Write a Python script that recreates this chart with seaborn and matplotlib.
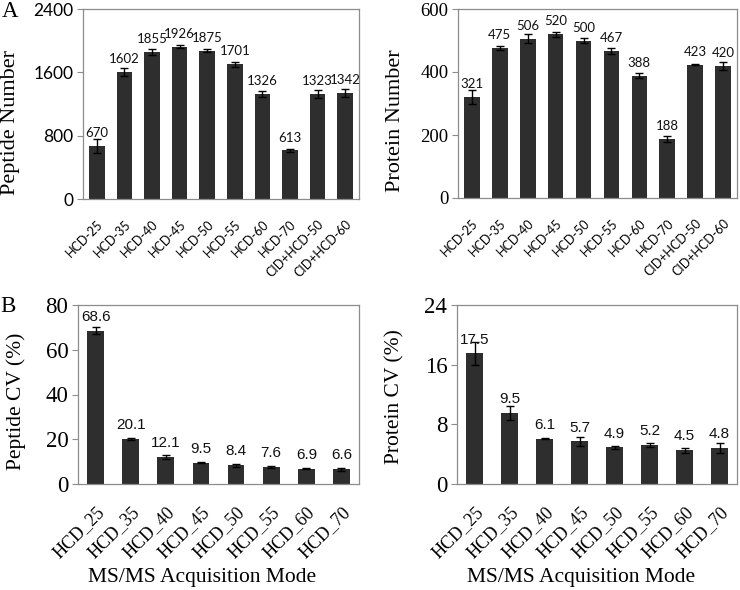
import matplotlib
matplotlib.use("Agg")
import matplotlib.pyplot as plt
import seaborn as sns
import pandas as pd

# ---------------- data ----------------
modes_top = ["HCD-25", "HCD-35", "HCD-40", "HCD-45", "HCD-50", "HCD-55",
             "HCD-60", "HCD-70", "CID+HCD-50", "CID+HCD-60"]
peptide_num = [670, 1602, 1855, 1926, 1875, 1701, 1326, 613, 1323, 1342]
peptide_num_err = [85, 50, 40, 20, 15, 35, 35, 20, 50, 50]
protein_num = [321, 475, 506, 520, 500, 467, 388, 188, 423, 420]
protein_num_err = [22, 6, 14, 8, 8, 10, 8, 9, 2, 13]

modes_bot = ["HCD_25", "HCD_35", "HCD_40", "HCD_45", "HCD_50", "HCD_55",
             "HCD_60", "HCD_70"]
peptide_cv = [68.6, 20.1, 12.1, 9.5, 8.4, 7.6, 6.9, 6.6]
peptide_cv_err = [1.5, 0.6, 1.0, 0.3, 0.6, 0.3, 0.3, 0.6]
protein_cv = [17.5, 9.5, 6.1, 5.7, 4.9, 5.2, 4.5, 4.8]
protein_cv_err = [1.6, 0.95, 0.05, 0.55, 0.25, 0.3, 0.35, 0.65]

yticks_pep_num = [0, 800, 1600, 2400]
yticks_prot_num = [0, 200, 400, 600]
yticks_pep_cv = [0, 20, 40, 60, 80]
yticks_prot_cv = [0, 8, 16, 24]

# ---------------- style ----------------
sns.set_theme(style="white")
plt.rcParams["font.family"] = ["DejaVu Sans"]
SERIF = "Liberation Serif"
CAL = "Lato"
ARIAL = "Liberation Sans"
BAR = "#2e2e2e"
SPINE = "#8c8c8c"

W, H = 740, 590
fig = plt.figure(figsize=(W / 100, H / 100), dpi=100)


def px_axes(left, top, right, bottom):
    return fig.add_axes([left / W, (H - bottom) / H, (right - left) / W, (bottom - top) / H])


def panel(ax, cats, vals, errs, yticks, ylabel, width, ytick_font, ytick_size,
          xtick_font, xtick_size, val_font, val_size, fmt, ylab_size, ylab_xy,
          xlabel=None, xlab_xy=None):
    df = pd.DataFrame({"mode": cats, "value": vals})
    sns.barplot(data=df, x="mode", y="value", order=cats, color=BAR,
                saturation=1, width=width, errorbar=None, ax=ax,
                edgecolor="none")
    xs = list(range(len(cats)))
    ax.errorbar(xs, vals, yerr=errs, fmt="none", ecolor="black",
                elinewidth=1.0, capsize=3, capthick=1.0)
    for x, v in zip(xs, vals):
        ax.annotate(fmt.format(v), (x, v), xytext=(0, 5), textcoords="offset points",
                    ha="center", va="bottom", fontfamily=val_font, fontsize=val_size,
                    color="#111111")
    ax.set_xlim(-0.5, len(cats) - 0.5)
    ax.set_ylim(yticks[0], yticks[-1])
    ax.set_yticks(yticks)
    ax.set_yticklabels([str(t) for t in yticks], fontfamily=ytick_font,
                       fontsize=ytick_size, color="black")
    ax.set_xticks(xs)
    ax.set_xticklabels(cats, rotation=45, ha="right", rotation_mode="anchor",
                       fontfamily=xtick_font, fontsize=xtick_size, color="black")
    ax.tick_params(axis="y", which="both", left=True, length=4, width=0.8,
                   color=SPINE, pad=3)
    ax.tick_params(axis="x", bottom=False, pad=8)
    ax.set_ylabel(ylabel, fontfamily=SERIF, fontsize=ylab_size, color="black")
    ax.yaxis.set_label_coords(*ylab_xy)
    if xlabel:
        ax.set_xlabel(xlabel, fontfamily=SERIF, fontsize=15.5, color="black", va="center")
        ax.xaxis.set_label_coords(*xlab_xy)
    else:
        ax.set_xlabel("")
    for s in ax.spines.values():
        s.set_visible(True)
        s.set_color(SPINE)
        s.set_linewidth(0.9)


ax1 = px_axes(83, 9, 359, 199)
panel(ax1, modes_top, peptide_num, peptide_num_err, yticks_pep_num, "Peptide Number",
      0.56, CAL, 12.5, CAL, 9, CAL, 9.5, "{:d}", 16, (-0.228, 0.405))
ax2 = px_axes(458, 9, 737, 198)
panel(ax2, modes_top, protein_num, protein_num_err, yticks_prot_num, "Protein Number",
      0.56, SERIF, 13.5, CAL, 9, CAL, 9.5, "{:d}", 16, (-0.19, 0.41))
ax3 = px_axes(78, 305, 359, 484)
panel(ax3, modes_bot, peptide_cv, peptide_cv_err, yticks_pep_cv, "Peptide CV (%)",
      0.48, SERIF, 16.5, SERIF, 13, ARIAL, 11, "{:.1f}", 15.5, (-0.185, 0.46),
      xlabel="MS/MS Acquisition Mode", xlab_xy=(0.44, -0.52))
ax4 = px_axes(457, 305, 737, 484)
panel(ax4, modes_bot, protein_cv, protein_cv_err, yticks_prot_cv, "Protein CV (%)",
      0.48, SERIF, 16.5, SERIF, 13, ARIAL, 11, "{:.1f}", 15.5, (-0.186, 0.49),
      xlabel="MS/MS Acquisition Mode", xlab_xy=(0.443, -0.52))

fig.text(2 / W, 1 - 17 / H, "A", fontfamily=SERIF, fontsize=16.5, color="black")
fig.text(0 / W, 1 - 312 / H, "B", fontfamily=SERIF, fontsize=16.5, color="black")

fig.savefig("out.png", dpi=100)
